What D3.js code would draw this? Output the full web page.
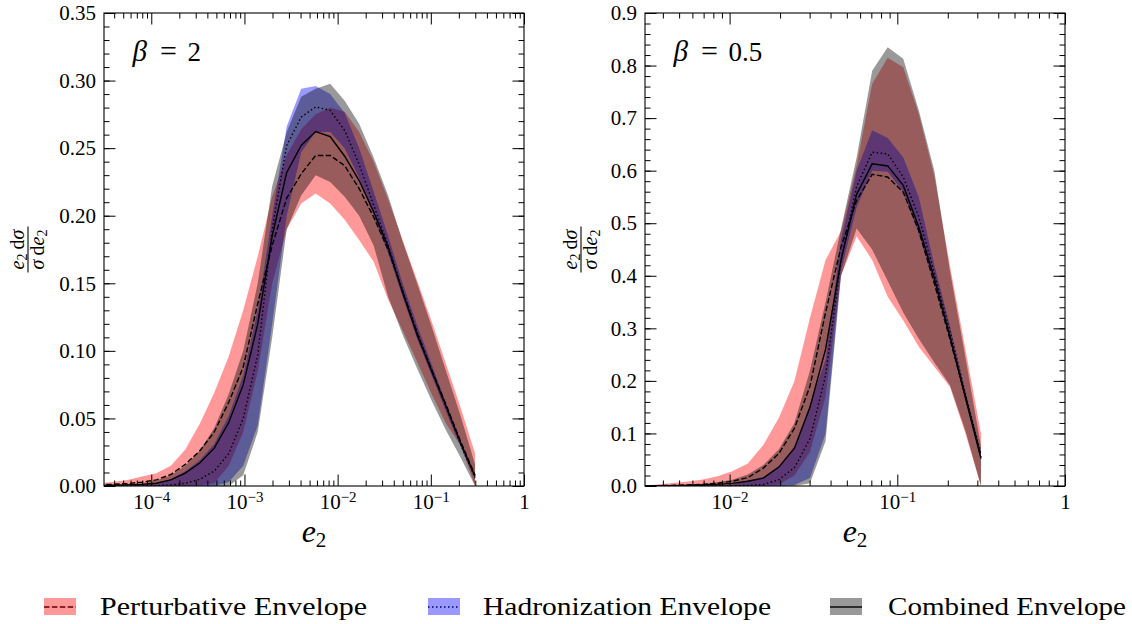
<!DOCTYPE html>
<html>
<head>
<meta charset="utf-8">
<script src="https://cdn.jsdelivr.net/npm/d3@7"></script>
<style>
  html, body { margin: 0; padding: 0; background: #fff; }
  svg { display: block; }
  svg text { font-family: "Liberation Serif", "Times New Roman", Times, "DejaVu Serif", "Noto Serif", serif; fill: #000; }
</style>
</head>
<body>
<svg id="fig" width="1132" height="624"></svg>
<script>
// ---------- beta = 2 ----------
const e2Beta2 = [2.70e-5, 3.87e-5, 5.53e-5, 7.91e-5, 1.132e-4, 1.620e-4, 2.317e-4, 3.316e-4, 4.742e-4, 6.785e-4,
  9.705e-4, 1.389e-3, 1.986e-3, 2.842e-3, 4.064e-3, 5.814e-3, 8.318e-3, 1.190e-2, 1.702e-2, 2.435e-2,
  3.483e-2, 4.983e-2, 7.129e-2, 0.1020, 0.1459, 0.2087, 0.2985];
const pertLoBeta2  = [0, 0, 0, 0, 0, 0, 0, 0.0005, 0.002, 0.015, 0.04, 0.085, 0.15, 0.19, 0.209, 0.2165, 0.209, 0.197, 0.182, 0.166, 0.138, 0.115, 0.092, 0.068, 0.046, 0.030, 0];
const pertMidBeta2 = [0.001, 0.0012, 0.0018, 0.0028, 0.0045, 0.0085, 0.016, 0.026, 0.040, 0.062, 0.088, 0.135, 0.178, 0.213, 0.231, 0.2446, 0.2446, 0.237, 0.220, 0.199, 0.175, 0.144, 0.113, 0.086, 0.060, 0.033, 0.008];
const pertHiBeta2  = [0.002, 0.003, 0.0045, 0.007, 0.0095, 0.015, 0.027, 0.046, 0.069, 0.096, 0.13, 0.17, 0.214, 0.245, 0.264, 0.275, 0.280, 0.277, 0.262, 0.240, 0.212, 0.182, 0.152, 0.122, 0.09, 0.058, 0.024];
const hadLoBeta2   = [0, 0, 0, 0, 0, 0, 0, 0, 0, 0.003, 0.015, 0.045, 0.12, 0.2, 0.247, 0.262, 0.262, 0.250, 0.228, 0.200, 0.172, 0.140, 0.109, 0.082, 0.055, 0.029, 0.005];
const hadMidBeta2  = [0, 0, 0, 0, 0.0002, 0.0008, 0.002, 0.005, 0.011, 0.024, 0.05, 0.097, 0.19, 0.252, 0.273, 0.2805, 0.278, 0.263, 0.238, 0.208, 0.178, 0.145, 0.114, 0.086, 0.058, 0.031, 0.006];
const hadHiBeta2   = [0, 0, 0, 0.0005, 0.002, 0.005, 0.011, 0.019, 0.031, 0.052, 0.082, 0.13, 0.2, 0.266, 0.294, 0.296, 0.29, 0.276, 0.250, 0.218, 0.185, 0.150, 0.119, 0.090, 0.061, 0.033, 0.008];
const combLoBeta2  = [0, 0, 0, 0, 0, 0, 0, 0, 0, 0, 0.008, 0.04, 0.11, 0.19, 0.215, 0.230, 0.225, 0.214, 0.2, 0.178, 0.140, 0.112, 0.087, 0.063, 0.041, 0.021, 0];
const combMidBeta2 = [0.0003, 0.0005, 0.0008, 0.0012, 0.002, 0.0045, 0.0095, 0.017, 0.028, 0.047, 0.075, 0.12, 0.185, 0.232, 0.252, 0.2623, 0.2586, 0.244, 0.226, 0.203, 0.177, 0.143, 0.112, 0.085, 0.059, 0.032, 0.007];
const combHiBeta2  = [0.0005, 0.001, 0.0015, 0.002, 0.004, 0.008, 0.015, 0.026, 0.043, 0.068, 0.1, 0.15, 0.222, 0.262, 0.288, 0.294, 0.2977, 0.285, 0.268, 0.243, 0.215, 0.181, 0.150, 0.118, 0.085, 0.052, 0.016];
const xTicksBeta2 = [1e-4, 1e-3, 1e-2, 1e-1, 1];
const yTicksBeta2 = [0, 0.05, 0.10, 0.15, 0.20, 0.25, 0.30, 0.35];

// ---------- beta = 0.5 ----------
const e2Beta05 = [2.882e-3, 3.567e-3, 4.416e-3, 5.467e-3, 6.767e-3, 8.378e-3, 1.037e-2, 1.284e-2, 1.589e-2, 1.968e-2,
  2.436e-2, 3.016e-2, 3.733e-2, 4.621e-2, 5.721e-2, 7.082e-2, 8.766e-2, 0.1085, 0.1343, 0.1663, 0.2058, 0.2548, 0.3155];
const pertLoBeta05  = [0, 0, 0, 0, 0, 0, 0, 0, 0, 0.003, 0.02, 0.065, 0.17, 0.40, 0.475, 0.43, 0.36, 0.315, 0.265, 0.227, 0.189, 0.10, 0];
const pertMidBeta05 = [0.0003, 0.0006, 0.001, 0.002, 0.003, 0.005, 0.009, 0.016, 0.034, 0.062, 0.11, 0.19, 0.33, 0.455, 0.543, 0.593, 0.588, 0.559, 0.486, 0.385, 0.28, 0.17, 0.055];
const pertHiBeta05  = [0.001, 0.0025, 0.005, 0.008, 0.012, 0.018, 0.028, 0.043, 0.078, 0.13, 0.2, 0.32, 0.43, 0.485, 0.61, 0.765, 0.815, 0.797, 0.708, 0.59, 0.42, 0.26, 0.10];
const hadLoBeta05   = [0, 0, 0, 0, 0, 0, 0, 0, 0, 0, 0.002, 0.015, 0.1, 0.41, 0.53, 0.6, 0.598, 0.56, 0.48, 0.385, 0.28, 0.165, 0.05];
const hadMidBeta05  = [0, 0, 0, 0, 0, 0, 0.0003, 0.001, 0.003, 0.012, 0.035, 0.09, 0.21, 0.43, 0.57, 0.635, 0.632, 0.588, 0.512, 0.405, 0.295, 0.175, 0.06];
const hadHiBeta05   = [0, 0, 0, 0.0003, 0.0008, 0.0015, 0.003, 0.01, 0.017, 0.038, 0.075, 0.155, 0.24, 0.47, 0.6, 0.677, 0.662, 0.625, 0.55, 0.42, 0.305, 0.18, 0.065];
const combLoBeta05  = [0, 0, 0, 0, 0, 0, 0, 0, 0, 0, 0, 0.005, 0.085, 0.40, 0.49, 0.45, 0.39, 0.33, 0.28, 0.235, 0.192, 0.105, 0];
const combMidBeta05 = [0, 0.0003, 0.0006, 0.001, 0.002, 0.003, 0.005, 0.009, 0.015, 0.036, 0.072, 0.15, 0.26, 0.43, 0.555, 0.613, 0.609, 0.572, 0.493, 0.395, 0.285, 0.168, 0.052];
const combHiBeta05  = [0.0003, 0.0008, 0.0015, 0.0025, 0.004, 0.007, 0.012, 0.022, 0.04, 0.07, 0.12, 0.22, 0.35, 0.49, 0.625, 0.79, 0.835, 0.813, 0.715, 0.6, 0.41, 0.245, 0.075];
const xTicksBeta05 = [1e-2, 1e-1, 1];
const yTicksBeta05 = [0, 0.1, 0.2, 0.3, 0.4, 0.5, 0.6, 0.7, 0.8, 0.9];

const legendLabels = ["Perturbative Envelope", "Hadronization Envelope", "Combined Envelope"];

// ---------- styling ----------
const FONT = '"Liberation Serif", "Times New Roman", Times, "DejaVu Serif", "Noto Serif", serif';
const BAND_FILL = ["rgba(255,0,0,0.4)", "rgba(0,0,255,0.4)", "rgba(0,0,0,0.4)"];
const LINE_DASH = ["5.5,2.4", "1.5,2.5", null];
const TOP = 13, BOTTOM = 486;
const MAJOR = 11.5, MINOR = 5.5;

const svg = d3.select("#fig");
const defs = svg.append("defs");

const panels = [
  { id: "b2", left: 104, right: 524, xDomain: [3.11e-5, 1], yMax: 0.35, yMinorStep: 0.01, yFmt: d3.format(".2f"),
    xTicks: xTicksBeta2, yTicks: yTicksBeta2, beta: "2", yLabelX: 28, e2: e2Beta2,
    bands: [[pertLoBeta2, pertHiBeta2], [hadLoBeta2, hadHiBeta2], [combLoBeta2, combHiBeta2]],
    mids: [pertMidBeta2, hadMidBeta2, combMidBeta2] },
  { id: "b05", left: 645, right: 1065, xDomain: [3.13e-3, 1], yMax: 0.9, yMinorStep: 0.02, yFmt: d3.format(".1f"),
    xTicks: xTicksBeta05, yTicks: yTicksBeta05, beta: "0.5", yLabelX: 581, e2: e2Beta05,
    bands: [[pertLoBeta05, pertHiBeta05], [hadLoBeta05, hadHiBeta05], [combLoBeta05, combHiBeta05]],
    mids: [pertMidBeta05, hadMidBeta05, combMidBeta05] }
];

function styleAxis(g) {
  g.select(".domain").remove();
  g.attr("font-family", FONT).attr("font-size", 21);
  g.selectAll(".tick line").attr("stroke", "#000").attr("stroke-width", 1);
}

panels.forEach(p => {
  const x = d3.scaleLog().domain(p.xDomain).range([p.left, p.right]);
  const y = d3.scaleLinear().domain([0, p.yMax]).range([BOTTOM, TOP]);
  const g = svg.append("g").attr("class", "panel-" + p.id);

  defs.append("clipPath").attr("id", "clip-" + p.id)
    .append("rect").attr("x", p.left).attr("y", TOP)
    .attr("width", p.right - p.left).attr("height", BOTTOM - TOP);

  const plot = g.append("g").attr("clip-path", `url(#clip-${p.id})`);

  // envelopes: perturbative, hadronization, combined (drawn in that order)
  p.bands.forEach(([lo, hi], k) => {
    const rows = p.e2.map((e, i) => ({ e, lo: lo[i], hi: hi[i] }));
    plot.append("path")
      .datum(rows)
      .attr("fill", BAND_FILL[k])
      .attr("stroke", "none")
      .attr("d", d3.area().x(d => x(d.e)).y0(d => y(d.lo)).y1(d => y(d.hi)));
  });

  // central values
  p.mids.forEach((mid, k) => {
    const rows = p.e2.map((e, i) => ({ e, v: mid[i] }));
    plot.append("path")
      .datum(rows)
      .attr("fill", "none")
      .attr("stroke", "#000")
      .attr("stroke-width", 1.4)
      .attr("stroke-dasharray", LINE_DASH[k])
      .attr("d", d3.line().x(d => x(d.e)).y(d => y(d.v)));
  });

  // minor ticks
  const xMinor = x.ticks().filter(v => Math.abs(Math.log10(v) - Math.round(Math.log10(v))) > 1e-6);
  const yMinor = d3.range(0, Math.round(p.yMax / p.yMinorStep) + 1).map(k => k * p.yMinorStep);

  g.append("g").attr("transform", `translate(0,${BOTTOM})`)
    .call(d3.axisBottom(x).tickValues(xMinor).tickSize(-MINOR).tickSizeOuter(0).tickFormat(() => ""))
    .call(styleAxis);
  g.append("g").attr("transform", `translate(0,${TOP})`)
    .call(d3.axisTop(x).tickValues(xMinor).tickSize(-MINOR).tickSizeOuter(0).tickFormat(() => ""))
    .call(styleAxis);
  g.append("g").attr("transform", `translate(${p.left},0)`)
    .call(d3.axisLeft(y).tickValues(yMinor).tickSize(-MINOR).tickSizeOuter(0).tickFormat(() => ""))
    .call(styleAxis);
  g.append("g").attr("transform", `translate(${p.right},0)`)
    .call(d3.axisRight(y).tickValues(yMinor).tickSize(-MINOR).tickSizeOuter(0).tickFormat(() => ""))
    .call(styleAxis);

  // major ticks
  const gx = g.append("g").attr("transform", `translate(0,${BOTTOM})`)
    .call(d3.axisBottom(x).tickValues(p.xTicks).tickSize(-MAJOR).tickSizeOuter(0).tickPadding(8).tickFormat(() => ""))
    .call(styleAxis);
  gx.selectAll(".tick text").each(function (d) {
    const t = d3.select(this);
    const ex = Math.round(Math.log10(d));
    if (ex === 0) { t.text("1"); return; }
    t.append("tspan").text("10");
    t.append("tspan").attr("dy", "-0.45em").attr("font-size", 15).text("\u2212" + Math.abs(ex));
  });
  g.append("g").attr("transform", `translate(0,${TOP})`)
    .call(d3.axisTop(x).tickValues(p.xTicks).tickSize(-MAJOR).tickSizeOuter(0).tickFormat(() => ""))
    .call(styleAxis);
  g.append("g").attr("transform", `translate(${p.left},0)`)
    .call(d3.axisLeft(y).tickValues(p.yTicks).tickSize(-MAJOR).tickSizeOuter(0).tickPadding(8).tickFormat(p.yFmt))
    .call(styleAxis);
  g.append("g").attr("transform", `translate(${p.right},0)`)
    .call(d3.axisRight(y).tickValues(p.yTicks).tickSize(-MAJOR).tickSizeOuter(0).tickFormat(() => ""))
    .call(styleAxis);

  // frame
  g.append("rect")
    .attr("x", p.left).attr("y", TOP)
    .attr("width", p.right - p.left).attr("height", BOTTOM - TOP)
    .attr("fill", "none").attr("stroke", "#000").attr("stroke-width", 1.1);

  // beta annotation
  const ann = g.append("g").attr("font-family", FONT);
  ann.append("text").attr("x", p.left + 28.5).attr("y", 61)
    .attr("font-size", 29).attr("font-style", "italic").text("\u03B2");
  ann.append("text").attr("x", p.left + 64.5).attr("y", 61).attr("text-anchor", "middle")
    .attr("font-size", 30).text("=");
  ann.append("text").attr("x", p.left + 83.5).attr("y", 61)
    .attr("font-size", 27).text(p.beta);

  // x axis title
  const xt = g.append("text").attr("x", (p.left + p.right) / 2).attr("y", 542)
    .attr("text-anchor", "middle").attr("font-family", FONT);
  xt.append("tspan").attr("font-size", 32).attr("font-style", "italic").text("e");
  xt.append("tspan").attr("font-size", 21).attr("dy", 5).text("2");

  // y axis title: fraction e2 dσ / σ de2, rotated
  const yl = g.append("g").attr("transform", `translate(${p.yLabelX},249.5) rotate(-90)`)
    .attr("font-family", FONT);
  const num = yl.append("text").attr("x", 0).attr("y", -4.5).attr("text-anchor", "middle").attr("font-size", 20);
  num.append("tspan").attr("font-style", "italic").text("e");
  num.append("tspan").attr("font-size", 14).attr("dy", 3).text("2");
  num.append("tspan").attr("dy", -3).text("\u2009d");
  num.append("tspan").attr("font-style", "italic").text("\u03C3");
  yl.append("line").attr("x1", -23).attr("x2", 23).attr("y1", 0).attr("y2", 0)
    .attr("stroke", "#000").attr("stroke-width", 1.1);
  const den = yl.append("text").attr("x", 0).attr("y", 16).attr("text-anchor", "middle").attr("font-size", 20);
  den.append("tspan").attr("font-style", "italic").text("\u03C3");
  den.append("tspan").text("\u2009d");
  den.append("tspan").attr("font-style", "italic").text("e");
  den.append("tspan").attr("font-size", 14).attr("dy", 3).text("2");
});

// ---------- legend ----------
const legendLayout = [
  { hx: 44, tx: 100, tl: 267 },
  { hx: 428, tx: 483, tl: 288 },
  { hx: 830, tx: 888, tl: 238 }
];
const lg = svg.append("g").attr("class", "legend");
legendLabels.forEach((label, k) => {
  const L = legendLayout[k];
  const item = lg.append("g");
  item.append("line")
    .attr("x1", L.hx).attr("x2", L.hx + 32).attr("y1", 607).attr("y2", 607)
    .attr("stroke", "#000").attr("stroke-width", 1.4)
    .attr("stroke-dasharray", LINE_DASH[k]);
  item.append("rect")
    .attr("x", L.hx).attr("y", 598).attr("width", 32).attr("height", 17)
    .attr("fill", BAND_FILL[k]);
  item.append("text")
    .attr("x", L.tx).attr("y", 615)
    .attr("font-family", FONT).attr("font-size", 25)
    .attr("textLength", L.tl).attr("lengthAdjust", "spacingAndGlyphs")
    .text(label);
});
</script>
</body>
</html>
